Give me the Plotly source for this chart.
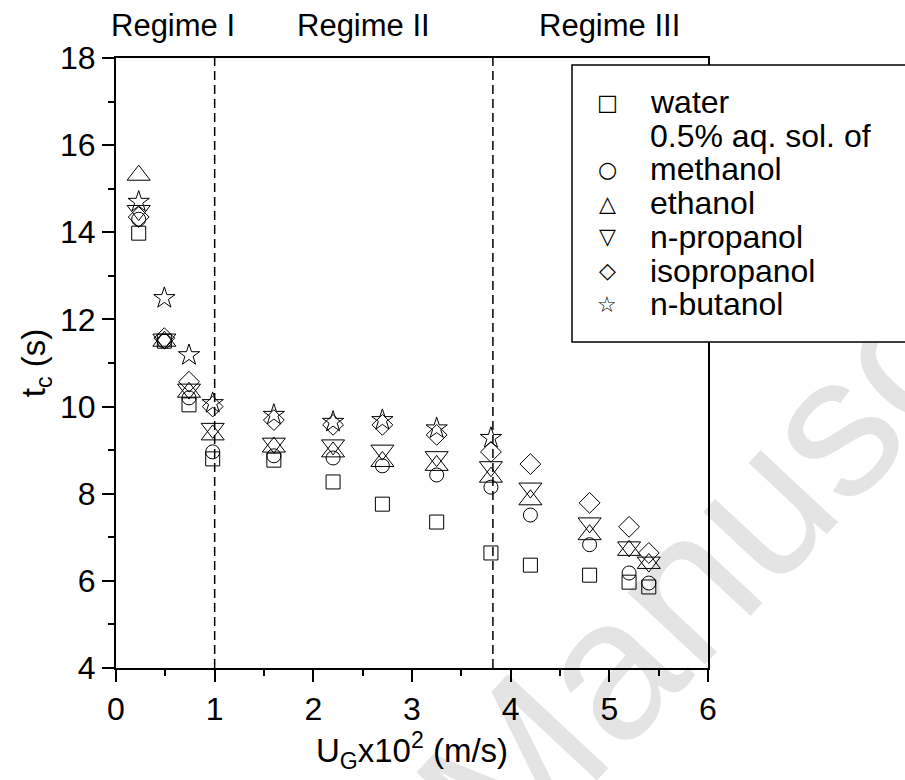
import plotly.graph_objects as go

# ---------------- data ----------------
ug = [0.23, 0.49, 0.74, 0.98, 1.6, 2.2, 2.7, 3.25, 3.8, 4.2, 4.8, 5.2, 5.4]
water = [13.98, 11.5, 10.04, 8.8, 8.77, 8.27, 7.76, 7.35, 6.64, 6.36, 6.13, 5.97, 5.86]
methanol = [14.3, 11.5, 10.2, 8.96, 8.87, 8.82, 8.64, 8.43, 8.15, 7.51, 6.83, 6.18, 5.95]
ethanol = [15.31, 11.5, 10.33, 9.35, 9.07, 8.96, 8.74, 8.65, 8.38, 7.86, 7.06, 6.7, 6.4]
n_propanol = [14.5, 11.55, 10.4, 9.5, 9.16, 9.12, 9.0, 8.85, 8.62, 8.13, 7.33, 6.78, 6.43]
isopropanol = [14.35, 11.57, 10.57, 10.0, 9.69, 9.58, 9.58, 9.35, 8.96, 8.68, 7.79, 7.24, 6.64]
ug_butanol = [0.23, 0.49, 0.74, 0.98, 1.6, 2.2, 2.7, 3.25, 3.8]
n_butanol = [14.7, 12.49, 11.18, 10.08, 9.81, 9.65, 9.69, 9.5, 9.28]

regime_bounds = [1.0, 3.82]
regime_labels = ["Regime I", "Regime II", "Regime III"]
regime_label_x = [0.58, 2.51, 5.0]

legend_names = ["water", "0.5% aq. sol. of", "methanol", "ethanol", "n-propanol", "isopropanol", "n-butanol"]
legend_glyphs = ["\u25A1", "", "\u25CB", "\u25B3", "\u25BD", "\u25C7", "\u2606"]

series = [
    ("water", ug, water, "square-open", 14),
    ("methanol", ug, methanol, "circle-open", 14),
    ("ethanol", ug, ethanol, "triangle-up-open", 20),
    ("n-propanol", ug, n_propanol, "triangle-down-open", 20),
    ("isopropanol", ug, isopropanol, "diamond-open", 16),
    ("n-butanol", ug_butanol, n_butanol, "star-open", 16),
]

FONT = "Liberation Sans, Arial, sans-serif"

fig = go.Figure()
for name, xs, ys, sym, sz in series:
    fig.add_trace(go.Scatter(
        x=xs, y=ys, mode="markers", name=name, showlegend=False,
        marker=dict(symbol=sym, size=sz, color="black", line=dict(color="black", width=1)),
    ))

# plot geometry (pixels)
W, H = 905, 780
L, R, T, B = 116, 197, 58, 112
pw, ph = W - L - R, H - T - B

def px_x(px):
    return (px - L) / pw

def px_y(py):
    return (H - B - py) / ph

# regime boundaries
for xb in regime_bounds:
    fig.add_shape(type="line", xref="x", yref="paper", x0=xb, x1=xb, y0=0, y1=1,
                  line=dict(color="black", width=1.5, dash="9px,5px"), layer="above")

annotations = []
for lab, lx in zip(regime_labels, regime_label_x):
    annotations.append(dict(text=lab, x=lx, xref="x", y=px_y(25), yref="paper",
                            showarrow=False, xanchor="center", yanchor="middle",
                            font=dict(family=FONT, size=31, color="black")))

# legend box
fig.add_shape(type="rect", xref="paper", yref="paper",
              x0=px_x(572), x1=px_x(925), y0=px_y(342), y1=px_y(65),
              fillcolor="white", line=dict(color="black", width=1.5), layer="above")
row0, step = 102, 33.7
for i, (nm, g) in enumerate(zip(legend_names, legend_glyphs)):
    yc = row0 + i * step
    annotations.append(dict(text=nm, x=px_x(648), y=px_y(yc), xref="paper", yref="paper",
                            showarrow=False, xanchor="left", yanchor="middle",
                            font=dict(family=FONT, size=32, color="black")))
    if g:
        annotations.append(dict(text=g, x=px_x(607), y=px_y(yc), xref="paper", yref="paper",
                                showarrow=False, xanchor="center", yanchor="middle",
                                font=dict(family="DejaVu Sans", size=22, color="black")))

# watermark (behind everything)
fig.add_shape(type="rect", xref="paper", yref="paper",
              x0=1.103, x1=1.123, y0=0.331, y1=0.351, line=dict(width=0),
              fillcolor="rgba(0,0,0,0)", layer="below",
              label=dict(text="Manuscript", textangle=-47, textposition="middle center",
                         font=dict(family=FONT, size=200, color="#e4e4e4")))

fig.update_layout(
    width=W, height=H, margin=dict(l=L, r=R, t=T, b=B, autoexpand=False),
    paper_bgcolor="white", plot_bgcolor="rgba(0,0,0,0)",
    font=dict(family=FONT, size=32, color="black"),
    showlegend=False, annotations=annotations,
)
axis_common = dict(showline=True, linewidth=2, linecolor="black", mirror=True,
                   showgrid=False, zeroline=False, ticks="outside", ticklen=12,
                   tickwidth=2, tickcolor="black",
                   tickfont=dict(family=FONT, size=32, color="black"))
fig.update_xaxes(range=[0, 6], tick0=0, dtick=1,
                 minor=dict(dtick=0.5, ticks="outside", ticklen=6, tickwidth=2, tickcolor="black"),
                 title=dict(text="U<sub>G</sub>x10<sup>2</sup> (m/s)", standoff=12,
                            font=dict(family=FONT, size=33)),
                 **axis_common)
fig.update_yaxes(range=[4, 18], tick0=4, dtick=2,
                 minor=dict(dtick=1, ticks="outside", ticklen=6, tickwidth=2, tickcolor="black"),
                 title=dict(text="t<sub>c</sub> (s)", standoff=4,
                            font=dict(family=FONT, size=33)),
                 **axis_common)

fig.write_html("out.html")
